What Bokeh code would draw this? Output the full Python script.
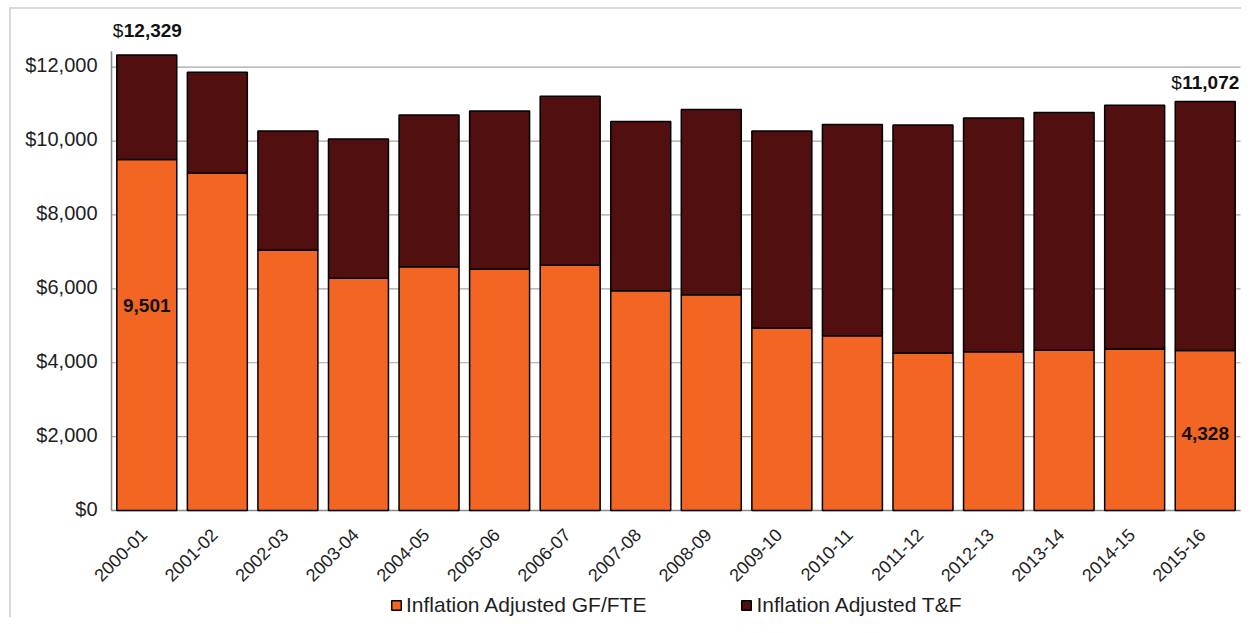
import math
from bokeh.plotting import figure
from bokeh.models import Legend, LegendItem, Range1d, ColumnDataSource
from bokeh.embed import file_html
from bokeh.resources import INLINE
from bokeh.core.properties import value

years = ["2000-01", "2001-02", "2002-03", "2003-04", "2004-05", "2005-06",
         "2006-07", "2007-08", "2008-09", "2009-10", "2010-11", "2011-12",
         "2012-13", "2013-14", "2014-15", "2015-16"]
gf_fte = [9501, 9126, 7054, 6288, 6595, 6532, 6640, 5946, 5838, 4937,
          4730, 4261, 4297, 4342, 4369, 4328]
total = [12329, 11865, 10270, 10054, 10703, 10811, 11216, 10532, 10856, 10270,
         10450, 10432, 10622, 10775, 10973, 11072]
tf = [t - g for t, g in zip(total, gf_fte)]
y_ticks = [0, 2000, 4000, 6000, 8000, 10000, 12000]
y_tick_labels = ["$" + format(t, ",") for t in y_ticks]

ORANGE = "#F26522"
DARK = "#520F0F"
FONT = "Liberation Sans"
AXIS = "#8a8a8a"
TXT = "#1e1e1e"

n = len(years)
xpos = [i + 0.5 for i in range(n)]
src = ColumnDataSource(dict(x=xpos, year=years, gf=gf_fte, tf=tf))

p = figure(x_range=Range1d(-1.5731, n + 0.0142), y_range=Range1d(-2896, 13805),
           width=1241, height=617, output_backend="svg",
           toolbar_location=None, tools="",
           x_axis_location=None, y_axis_location=None,
           min_border_left=0, min_border_right=0,
           min_border_top=0, min_border_bottom=0,
           background_fill_color=None, border_fill_color=None)
p.styles = {"background": "linear-gradient(#d9d9d9,#d9d9d9) 9px 7px / 2px 100% no-repeat, "
                          "linear-gradient(#d9d9d9,#d9d9d9) 9px 7px / 100% 2px no-repeat, white"}
p.outline_line_color = None
p.grid.grid_line_color = None

# gridlines + axis lines
p.segment(x0=[0] * len(y_ticks), y0=y_ticks, x1=[n] * len(y_ticks), y1=y_ticks,
          line_color="#a6a6a6", line_width=1.2)
p.segment(x0=[0], y0=[0], x1=[0], y1=[12430], line_color=AXIS, line_width=1.6)
p.segment(x0=[0], y0=[0], x1=[n], y1=[0], line_color=AXIS, line_width=1.6)

rs = p.vbar_stack(["gf", "tf"], x="x", width=0.85, source=src,
                  color=[ORANGE, DARK], line_color="black", line_width=1.5)

# y tick labels
p.text(x=[0] * len(y_ticks), y=y_ticks, text=y_tick_labels, x_offset=-14, y_offset=-2,
       text_align="right", text_baseline="middle",
       text_font=value(FONT), text_font_size="20px", text_color=TXT)

# category labels (rotated)
p.text(x="x", y=0, text="year", source=src, angle=math.pi / 4,
       text_align="right", text_baseline="middle", x_offset=-3, y_offset=21,
       text_font=value(FONT), text_font_size="18px", text_color=TXT)

# data labels
lab = dict(text_font=value(FONT), text_font_size="19px", text_baseline="middle",
           text_color="#111111")
p.text(x=[xpos[0]], y=[total[0]], text=["$"], x_offset=-34, y_offset=-25,
       text_align="left", **lab)
p.text(x=[xpos[0]], y=[total[0]], text=[format(total[0], ",")], x_offset=-23,
       y_offset=-25, text_align="left", text_font_style="bold", **lab)
p.text(x=[xpos[-1]], y=[total[-1]], text=["$"], x_offset=-34, y_offset=-19,
       text_align="left", **lab)
p.text(x=[xpos[-1]], y=[total[-1]], text=[format(total[-1], ",")], x_offset=-23,
       y_offset=-19, text_align="left", text_font_style="bold", **lab)
p.text(x=[xpos[0]], y=[gf_fte[0] * 0.583], text=[format(gf_fte[0], ",")],
       text_align="center", text_font_style="bold", **lab)
p.text(x=[xpos[-1]], y=[gf_fte[-1] * 0.48], text=[format(gf_fte[-1], ",")],
       text_align="center", text_font_style="bold", **lab)

legend = Legend(items=[LegendItem(label="Inflation Adjusted GF/FTE", renderers=[rs[0]]),
                       LegendItem(label="Inflation Adjusted T&F", renderers=[rs[1]])],
                orientation="horizontal", location=(390, 0),
                border_line_alpha=0, background_fill_alpha=0,
                label_text_font=FONT, label_text_font_size="21px",
                label_text_color=TXT, label_text_line_height=0.75,
                spacing=94, glyph_width=12, glyph_height=12,
                label_standoff=4, padding=0, margin=0)
p.add_layout(legend, "center")

open("out.html", "w").write(file_html(p, INLINE))
